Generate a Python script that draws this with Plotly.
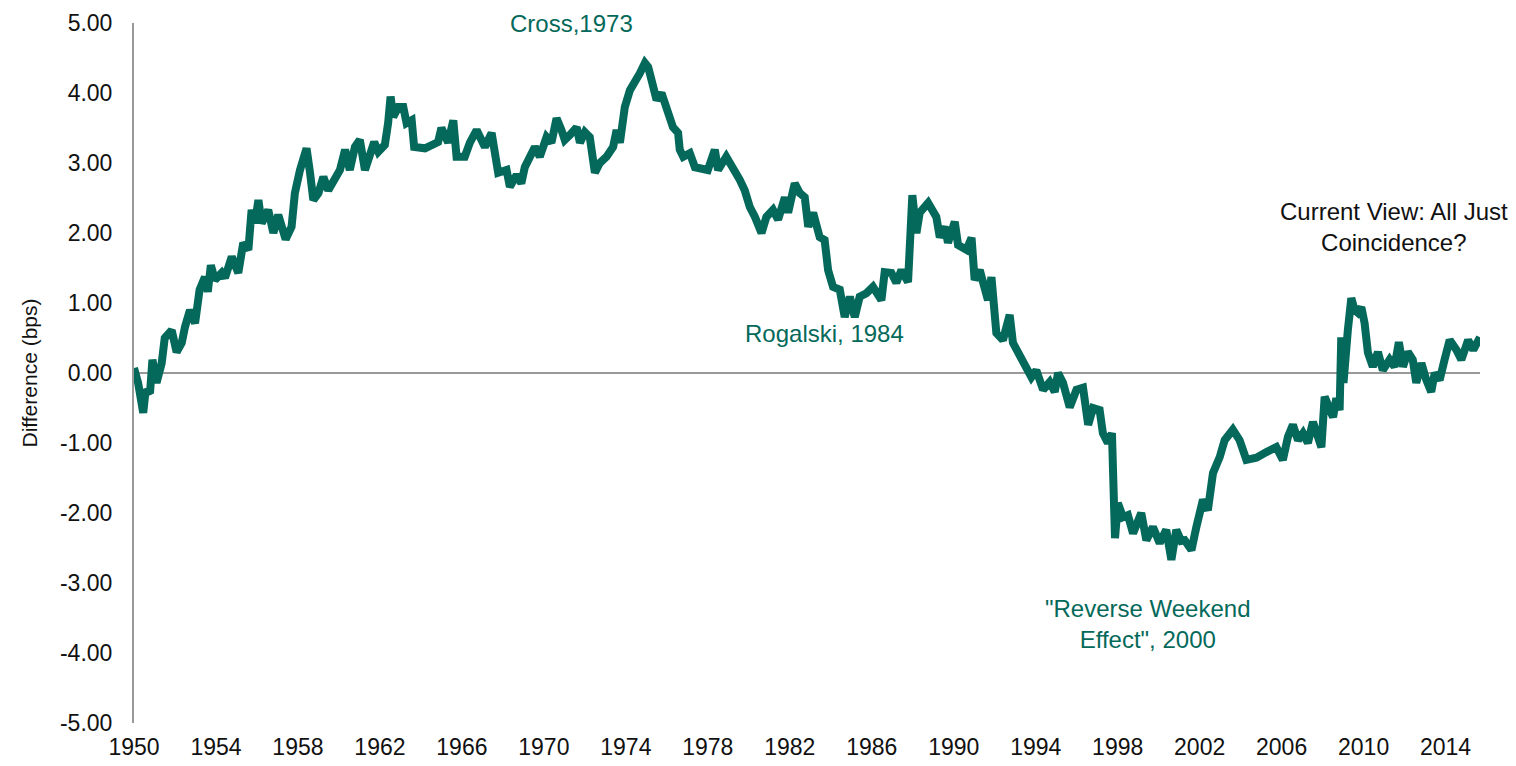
import plotly.graph_objects as go

years = [
    1950.0, 1950.2, 1950.45, 1950.57, 1950.78, 1950.9, 1951.1, 1951.35, 1951.5, 1951.84,
    1952.08, 1952.33, 1952.49, 1952.73, 1952.98, 1953.2, 1953.46, 1953.6, 1953.75, 1953.95,
    1954.28, 1954.44, 1954.77, 1955.09, 1955.33, 1955.58, 1955.74, 1955.9, 1956.07, 1956.23,
    1956.55, 1956.8, 1957.04, 1957.4, 1957.69, 1957.85, 1958.1, 1958.42, 1958.59, 1958.75,
    1959.0, 1959.24, 1959.48, 1959.8, 1960.05, 1960.3, 1960.53, 1960.78, 1961.02, 1961.27,
    1961.51, 1961.72, 1961.92, 1962.24, 1962.4, 1962.52, 1962.65, 1962.9, 1963.14, 1963.3,
    1963.55, 1963.67, 1964.2, 1964.84, 1965.0, 1965.33, 1965.58, 1965.74, 1966.14, 1966.39,
    1966.72, 1967.0, 1967.12, 1967.45, 1967.77, 1968.18, 1968.34, 1968.67, 1968.9, 1969.07,
    1969.56, 1969.8, 1970.13, 1970.37, 1970.62, 1970.86, 1971.02, 1971.27, 1971.6, 1971.76,
    1972.0, 1972.24, 1972.49, 1972.73, 1973.06, 1973.38, 1973.55, 1973.71, 1973.95, 1974.2,
    1974.44, 1974.68, 1974.93, 1975.09, 1975.25, 1975.5, 1975.74, 1976.06, 1976.3, 1976.55,
    1976.63, 1976.8, 1977.12, 1977.37, 1977.77, 1978.0, 1978.34, 1978.5, 1978.9, 1979.23,
    1979.56, 1979.8, 1980.05, 1980.3, 1980.62, 1980.86, 1981.18, 1981.43, 1981.76, 1981.92,
    1982.24, 1982.49, 1982.73, 1982.9, 1983.14, 1983.46, 1983.7, 1983.87, 1984.11, 1984.44,
    1984.68, 1984.93, 1985.17, 1985.41, 1985.74, 1986.06, 1986.47, 1986.63, 1986.96, 1987.2,
    1987.45, 1987.77, 1987.85, 1987.98, 1988.18, 1988.34, 1988.75, 1989.15, 1989.32, 1989.56,
    1989.72, 1990.05, 1990.21, 1990.62, 1990.87, 1991.02, 1991.27, 1991.43, 1991.67, 1991.84,
    1992.08, 1992.4, 1992.73, 1992.89, 1993.22, 1993.54, 1993.79, 1994.03, 1994.36, 1994.68,
    1994.93, 1995.09, 1995.33, 1995.66, 1995.99, 1996.31, 1996.56, 1996.8, 1997.12, 1997.28,
    1997.52, 1997.72, 1997.77, 1997.87, 1998.01, 1998.26, 1998.5, 1998.75, 1999.15, 1999.4,
    1999.72, 2000.05, 2000.37, 2000.62, 2000.86, 2001.1, 2001.27, 2001.6, 2001.84, 2002.16,
    2002.4, 2002.65, 2002.98, 2003.22, 2003.62, 2003.95, 2004.28, 2004.77, 2005.26, 2005.74,
    2006.06, 2006.31, 2006.55, 2006.8, 2007.04, 2007.28, 2007.53, 2007.7, 2007.94, 2008.1,
    2008.26, 2008.51, 2008.67, 2008.83, 2008.91, 2009.02, 2009.23, 2009.4, 2009.56, 2009.72,
    2009.89, 2010.05, 2010.21, 2010.45, 2010.7, 2010.94, 2011.27, 2011.51, 2011.72, 2011.92,
    2012.16, 2012.4, 2012.57, 2012.82, 2013.06, 2013.3, 2013.47, 2013.71, 2013.95, 2014.2,
    2014.53, 2014.77, 2015.1, 2015.35, 2015.68,
]

difference_bps = [
    0.07, -0.14, -0.57, -0.24, -0.29, 0.19, -0.14, 0.14, 0.50, 0.61,
    0.30, 0.43, 0.66, 0.90, 0.71, 1.19, 1.37, 1.16, 1.54, 1.33,
    1.43, 1.36, 1.66, 1.43, 1.86, 1.76, 2.33, 2.14, 2.47, 2.14,
    2.33, 2.00, 2.26, 1.91, 2.09, 2.57, 2.90, 3.21, 2.86, 2.47,
    2.57, 2.80, 2.61, 2.80, 2.90, 3.19, 2.90, 3.23, 3.33, 2.90,
    3.14, 3.30, 3.16, 3.26, 3.57, 3.95, 3.66, 3.80, 3.80, 3.57,
    3.61, 3.23, 3.21, 3.30, 3.50, 3.29, 3.61, 3.09, 3.09, 3.29,
    3.47, 3.30, 3.23, 3.43, 2.86, 2.90, 2.66, 2.83, 2.71, 2.94,
    3.23, 3.09, 3.37, 3.29, 3.64, 3.47, 3.33, 3.40, 3.51, 3.29,
    3.44, 3.37, 2.86, 3.00, 3.09, 3.23, 3.47, 3.29, 3.80, 4.04,
    4.14, 4.28, 4.43, 4.37, 4.19, 3.90, 4.00, 3.71, 3.51, 3.43,
    3.19, 3.09, 3.14, 2.94, 2.93, 2.90, 3.19, 2.90, 3.09, 2.94,
    2.76, 2.61, 2.37, 2.23, 2.00, 2.23, 2.33, 2.19, 2.51, 2.29,
    2.71, 2.57, 2.51, 2.09, 2.29, 1.94, 1.90, 1.47, 1.23, 1.19,
    0.80, 1.09, 0.80, 1.09, 1.14, 1.23, 1.04, 1.44, 1.43, 1.29,
    1.47, 1.30, 2.14, 2.54, 2.00, 2.29, 2.43, 2.23, 1.94, 2.09,
    1.86, 2.16, 1.83, 1.76, 1.93, 1.33, 1.47, 1.29, 1.04, 1.37,
    0.57, 0.47, 0.83, 0.43, 0.23, 0.04, -0.06, 0.04, -0.24, -0.13,
    -0.27, 0.00, -0.14, -0.49, -0.24, -0.21, -0.74, -0.50, -0.53, -0.86,
    -1.00, -0.86, -2.06, -2.36, -1.86, -2.06, -2.03, -2.29, -2.00, -2.39,
    -2.20, -2.43, -2.24, -2.67, -2.24, -2.40, -2.39, -2.53, -2.20, -1.81,
    -1.96, -1.43, -1.20, -0.96, -0.81, -0.96, -1.24, -1.21, -1.13, -1.06,
    -1.24, -0.91, -0.74, -0.96, -0.86, -1.00, -0.70, -0.86, -1.06, -0.34,
    -0.43, -0.63, -0.36, -0.53, 0.51, -0.14, 0.61, 1.07, 0.90, 0.86,
    0.94, 0.71, 0.29, 0.09, 0.30, 0.04, 0.19, 0.09, 0.44, 0.09,
    0.30, 0.19, -0.14, 0.14, -0.10, -0.27, 0.00, -0.10, 0.19, 0.47,
    0.33, 0.19, 0.47, 0.33, 0.51,
]

tick_years = list(range(1950, 2015, 4))
y_ticks = [-5, -4, -3, -2, -1, 0, 1, 2, 3, 4, 5]
y_ticktext = ["-5.00", "-4.00", "-3.00", "-2.00", "-1.00", "0.00",
              "1.00", "2.00", "3.00", "4.00", "5.00"]

TEAL = "#04695a"
FONT = "Liberation Sans, Arial, sans-serif"
FS_TICK = 23
FS_ANN = 24

fig = go.Figure()
fig.add_trace(go.Scatter(
    x=years, y=difference_bps, mode="lines",
    line=dict(color=TEAL, width=8),
    showlegend=False, hoverinfo="x+y",
))

fig.update_layout(
    width=1516, height=766,
    margin=dict(l=126, r=44, t=15, b=51),
    plot_bgcolor="white", paper_bgcolor="white",
    font=dict(family=FONT, size=FS_TICK, color="#111"),
    xaxis=dict(
        range=[1950, 2015.68], tickmode="array", tickvals=tick_years,
        ticktext=[str(t) for t in tick_years],
        showgrid=False, zeroline=False, showline=False, ticks="",
        tickfont=dict(size=FS_TICK), automargin=False, ticklabelstandoff=8,
    ),
    yaxis=dict(
        range=[-5, 5], tickmode="array", tickvals=y_ticks, ticktext=y_ticktext,
        showgrid=False,
        zeroline=True, zerolinecolor="#999999", zerolinewidth=2,
        showline=True, linecolor="#999999", linewidth=2, ticks="",
        ticklabelstandoff=15, automargin=False,
        title=dict(text="Difference (bps)", font=dict(size=21), standoff=17),
        tickfont=dict(size=FS_TICK),
    ),
)

annos = [
    dict(x=1971.37, y=4.99, text="Cross,1973", color=TEAL),
    dict(x=1983.7, y=0.57, text="Rogalski, 1984", color=TEAL),
    dict(x=1999.46, y=-3.58, text="\"Reverse Weekend<br>Effect\", 2000", color=TEAL),
    dict(x=2011.47, y=2.09, text="Current View: All Just<br>Coincidence?", color="#111111"),
]
for a in annos:
    fig.add_annotation(
        x=a["x"], y=a["y"], xref="x", yref="y", text=a["text"],
        showarrow=False, xanchor="center", yanchor="middle",
        font=dict(family=FONT, size=FS_ANN, color=a["color"]),
    )

fig.write_html("out.html")
